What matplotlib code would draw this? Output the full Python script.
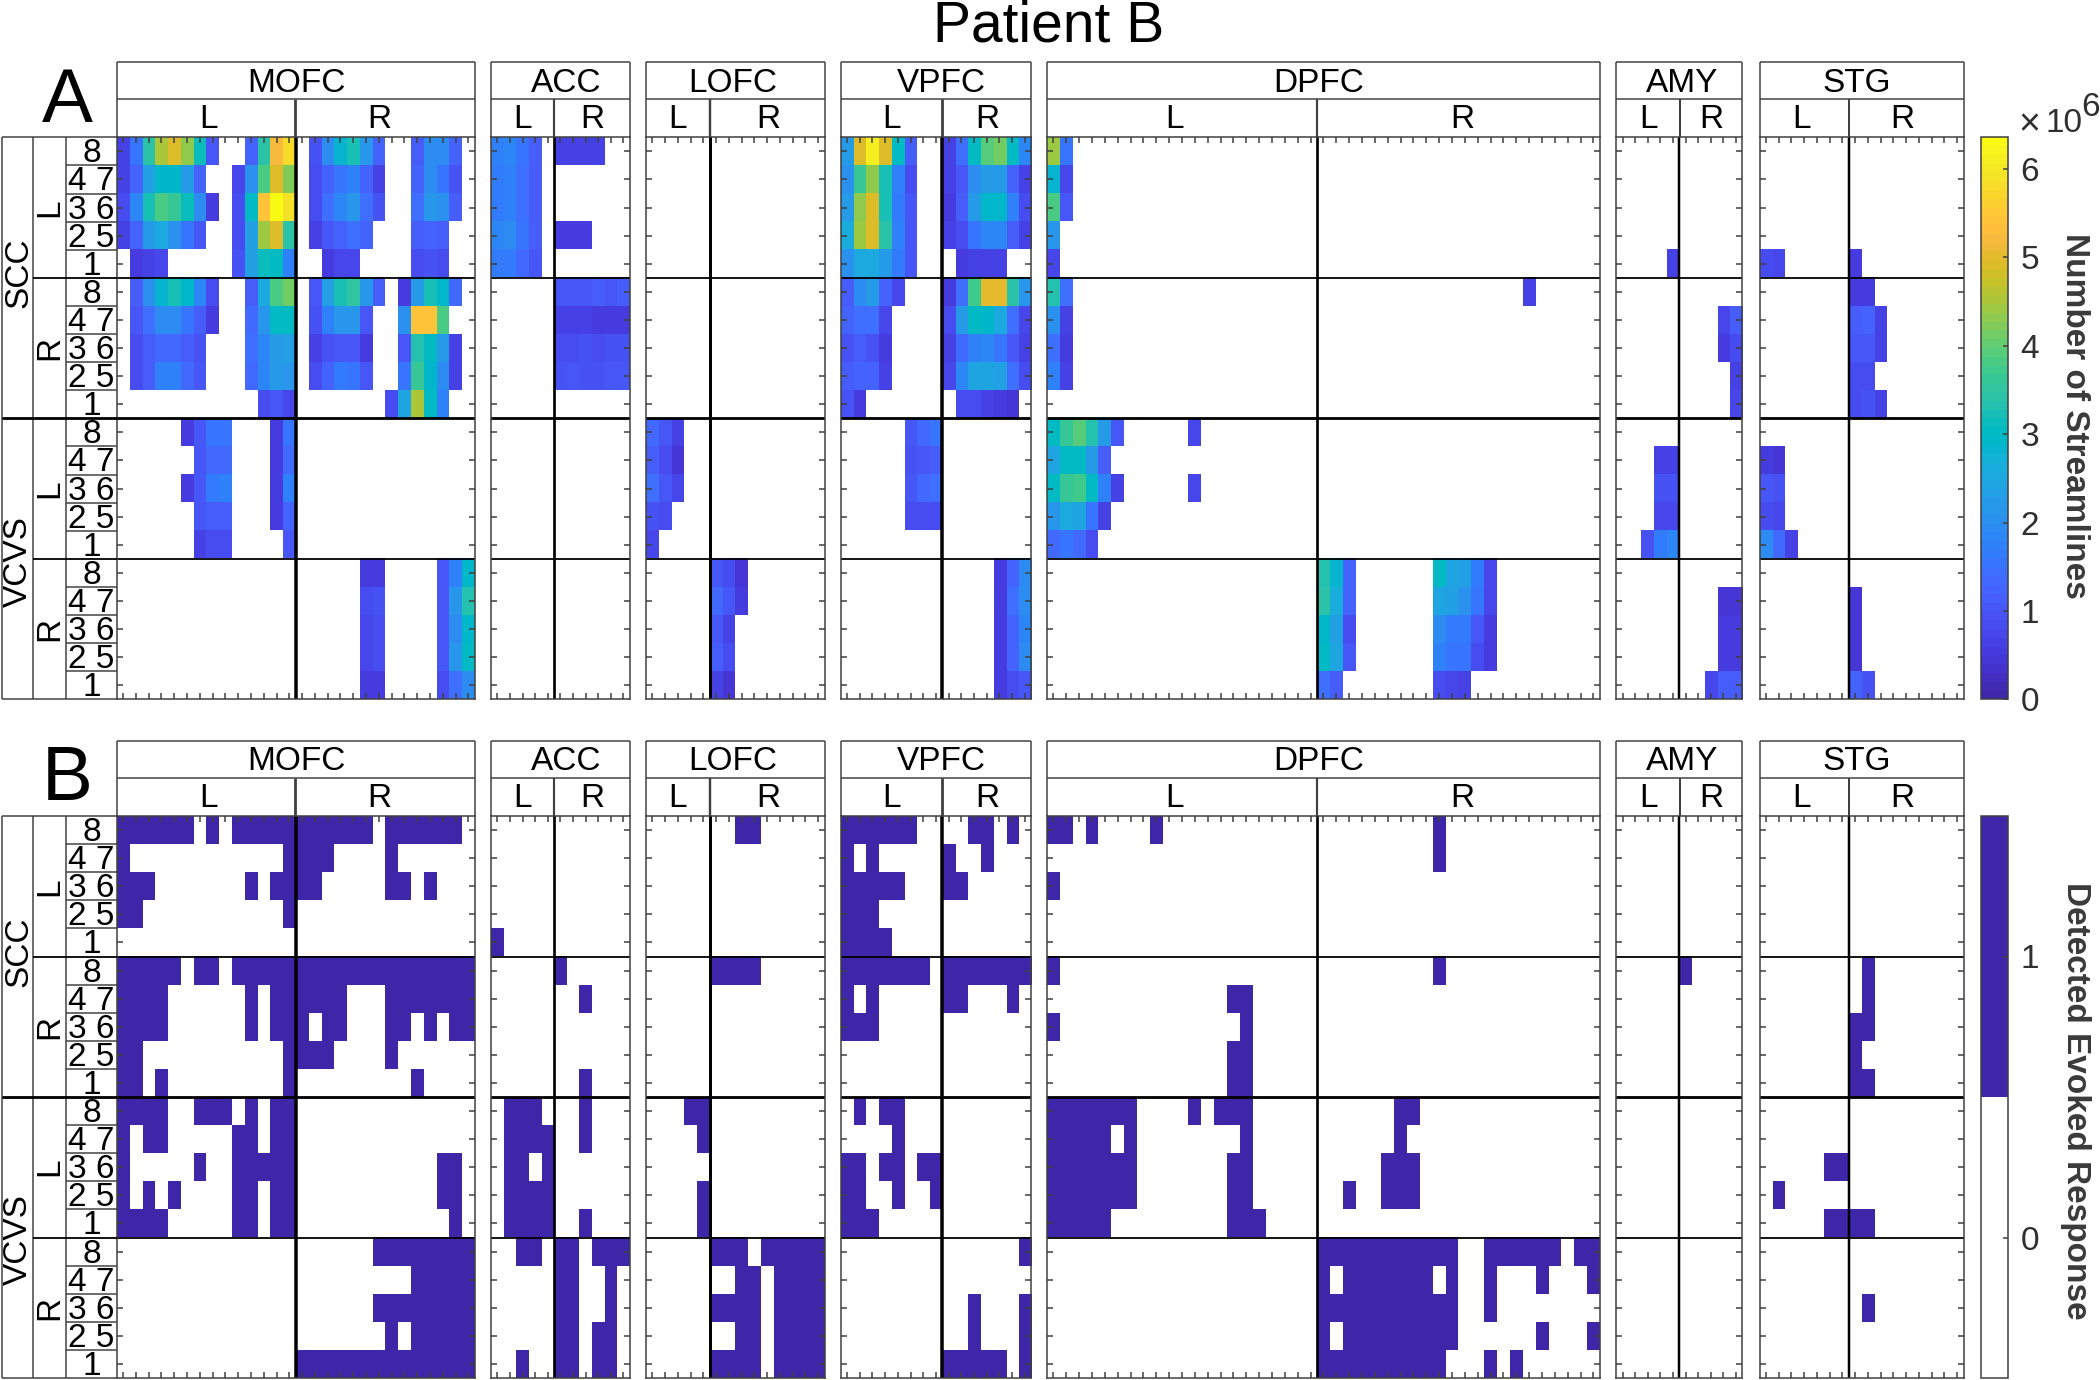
import numpy as np
import matplotlib
matplotlib.use("Agg")
import matplotlib.pyplot as plt
from matplotlib.colors import ListedColormap, Normalize

plt.rcParams['font.family'] = ['Liberation Sans', 'DejaVu Sans']

PARULA = [(.2422,.1504,.6603),(.2504,.1650,.7076),(.2578,.1818,.7511),(.2647,.1978,.7952),(.2706,.2147,.8364),(.2751,.2342,.8710),(.2783,.2559,.8991),(.2803,.2782,.9221),(.2813,.3006,.9414),(.2810,.3228,.9579),(.2795,.3447,.9717),(.2760,.3667,.9829),(.2699,.3892,.9906),(.2602,.4123,.9952),(.2440,.4358,.9988),(.2206,.4603,.9973),(.1963,.4847,.9892),(.1834,.5074,.9798),(.1786,.5289,.9682),(.1764,.5499,.9520),(.1687,.5703,.9359),(.1540,.5902,.9218),(.1460,.6091,.9079),(.1380,.6276,.8973),(.1248,.6459,.8883),(.1113,.6635,.8763),(.0952,.6798,.8598),(.0689,.6948,.8394),(.0297,.7082,.8163),(.0036,.7203,.7917),(.0067,.7312,.7660),(.0433,.7411,.7394),(.0964,.7500,.7120),(.1408,.7584,.6842),(.1717,.7670,.6554),(.1938,.7758,.6251),(.2161,.7843,.5923),(.2470,.7918,.5567),(.2906,.7973,.5188),(.3406,.8008,.4789),(.3909,.8029,.4354),(.4456,.8024,.3909),(.5044,.7993,.3480),(.5616,.7942,.3045),(.6174,.7876,.2612),(.6720,.7793,.2227),(.7242,.7698,.1910),(.7738,.7598,.1646),(.8203,.7498,.1535),(.8634,.7406,.1596),(.9035,.7330,.1774),(.9393,.7288,.2100),(.9728,.7298,.2394),(.9956,.7434,.2371),(.9970,.7659,.2199),(.9952,.7893,.2028),(.9892,.8136,.1885),(.9786,.8386,.1766),(.9676,.8639,.1643),(.9610,.8890,.1537),(.9597,.9135,.1423),(.9628,.9373,.1265),(.9691,.9606,.1064),(.9769,.9839,.0805)]

REGIONS = ["MOFC", "ACC", "LOFC", "VPFC", "DPFC", "AMY", "STG"]
N_LEFT = [14, 5, 5, 8, 21, 5, 7]
N_RIGHT = [14, 6, 9, 7, 22, 5, 9]
ROW_LABELS = ["8", "4 7", "3 6", "2 5", "1"]
VMAX_STREAMLINES = 6.36

# Streamline counts (millions): (row, first column, values); 0 = none
MOFC_A = [
 (0,0,[.6,1.5,3.4,4.5,4.9,4.3,3.1,1.0,0,0,1.2,3.4,5.2,5.8, 0,.9,1.9,2.8,3.2,2.1,1.2,0,0,1.1,1.9,1.9,1.2]),
 (1,0,[.6,1.2,2.3,2.9,2.9,2.2,1.2,0,0,.7,2.0,3.8,4.9,4.2, 0,.8,1.2,1.5,1.7,1.2,.6,0,0,1.2,1.9,1.5,.9]),
 (2,0,[.8,1.8,3.2,3.8,3.6,3.1,1.9,.5,0,.8,3.0,5.4,6.3,5.9, 0,.8,1.4,1.8,2.1,1.4,.9,0,0,1.4,2.1,2.0,1.1]),
 (3,0,[.6,1.2,2.2,2.5,2.0,1.5,1.0,0,0,.8,2.3,4.4,4.9,3.4, 0,.6,1.0,1.2,1.4,1.2,0,0,0,1.1,1.2,1.1]),
 (4,0,[0,.5,.6,.7,0,0,0,0,0,.9,2.3,3.1,3.0,1.7, 0,0,.5,.7,.7,0,0,0,0,.8,.9,.8]),
 (5,0,[0,1.1,2.0,2.8,3.2,2.9,1.8,.8,0,0,1.1,2.5,3.8,4.1, 0,1.0,2.3,3.2,3.5,2.1,1.1,0,.5,2.2,3.2,2.9,1.3]),
 (6,0,[0,1.0,1.4,1.9,1.9,1.5,1.1,.5,0,0,1.3,2.1,3.0,3.0, 0,.9,1.7,2.1,2.1,1.0,0,0,2.0,5.4,5.4,3.8]),
 (7,0,[0,.8,1.1,1.3,1.3,1.1,.9,0,0,0,1.4,1.8,2.2,2.3, 0,.6,.9,1.0,1.0,.5,0,0,1.0,3.3,3.0,2.2,.6]),
 (8,0,[0,.8,1.1,1.7,1.7,1.3,1.0,0,0,0,1.3,1.8,2.2,2.1, 0,.8,1.2,1.6,1.5,1.0,0,0,1.5,3.6,2.9,1.9,.6]),
 (9,11,[.8,1.0,.7, 0,0,0,0,0,0,0,.8,2.4,4.5,3.0,1.7]),
 (10,5,[.5,1.0,1.5,1.5,0,0,0,.5,1.5]),
 (11,6,[1.0,1.3,1.3,0,0,0,.5,1.3]),
 (12,5,[.5,1.0,1.6,1.7,0,0,0,.5,1.7]),
 (13,6,[1.0,1.1,1.1,0,0,0,.5,1.2]),
 (14,6,[.6,.8,.8,0,0,0,0,1.0]),
 (15,19,[.5,.5,0,0,0,0,1.0,1.7,2.9]),
 (16,19,[.8,.9,0,0,0,0,1.0,2.1,3.3]),
 (17,19,[.7,.8,0,0,0,0,1.0,1.9,2.9]),
 (18,19,[.7,.8,0,0,0,0,1.0,2.1,3.0]),
 (19,19,[.5,.5,0,0,0,0,.8,1.4,1.9]),
]
ACC_A = [
 (0,0,[1.7,1.8,1.5,1.1,0,.6,.6,.6,.6]),
 (1,0,[1.6,1.7,1.4,1.1]),
 (2,0,[1.6,1.7,1.4,1.1]),
 (3,0,[1.8,1.9,1.5,1.1,0,.5,.5,.5]),
 (4,0,[1.6,1.6,1.3,1.0]),
 (5,5,[1.0,1.0,1.0,1.1,1.0,1.1]),
 (6,5,[.6,.6,.6,.5,.5,.5]),
 (7,5,[.8,.8,.9,.8,.9,.9]),
 (8,5,[.9,1.0,.9,.9,1.0,1.0]),
]
LOFC_A = [
 (10,0,[1.3,1.0,.6]),
 (11,0,[1.1,.8,.4]),
 (12,0,[1.4,1.0,.7]),
 (13,0,[.9,.8]),
 (14,0,[.7]),
 (15,5,[1.0,.8,.4]),
 (16,5,[1.3,1.0,.5]),
 (17,5,[1.0,.6]),
 (18,5,[1.1,.8]),
 (19,5,[.6,.4]),
]
VPFC_A = [
 (0,0,[2.2,4.9,6.1,4.9,3.0,1.1,0,0, .6,1.4,3.0,3.9,4.1,3.0,1.8]),
 (1,0,[2.0,3.6,4.3,3.2,1.7,.8,0,0, .6,1.0,1.9,2.2,2.2,1.2,.6]),
 (2,0,[2.2,4.3,4.9,3.2,1.6,1.0,0,0, .5,1.1,2.2,2.9,2.9,1.7,.8]),
 (3,0,[2.6,4.4,4.9,3.4,1.7,1.0,0,0, .6,.8,1.5,1.8,1.8,1.1,.6]),
 (4,0,[2.0,2.5,2.5,2.2,1.6,1.0,0,0, 0,.5,.6,.6,.6]),
 (5,0,[1.1,1.9,2.2,1.2,.7,0,0,0, .5,1.4,3.7,5.0,5.0,3.4,2.1]),
 (6,0,[1.2,1.4,1.4,.7,0,0,0,0, .8,2.2,3.0,2.9,2.5,1.4,.7]),
 (7,0,[.9,1.1,.9,.5,0,0,0,0, .6,1.3,1.7,1.8,1.5,1.0,.6]),
 (8,0,[1.1,1.2,1.2,.6,0,0,0,0, .7,1.8,2.4,2.4,2.3,1.4,.8]),
 (9,0,[.9,.5,0,0,0,0,0,0, 0,.8,.8,.6,.5,.4]),
 (10,5,[1.0,1.3,1.5]),
 (11,5,[.9,1.0,1.1]),
 (12,5,[1.0,1.3,1.4]),
 (13,5,[.8,.8,.8]),
 (15,12,[.5,1.2,1.9]),
 (16,12,[.5,1.4,1.9]),
 (17,12,[.5,1.2,1.8]),
 (18,12,[.5,1.2,1.9]),
 (19,12,[.5,.8,1.0]),
]
DPFC_A = [
 (0,0,[4.4,1.5]),
 (1,0,[2.8,.7]),
 (2,0,[3.8,1.0]),
 (3,0,[2.1]),
 (4,0,[.7]),
 (5,0,[3.3,1.4]),
 (5,37,[.6]),
 (6,0,[2.0,.6]),
 (7,0,[1.4,.5]),
 (8,0,[1.7,.6]),
 (10,0,[3.0,3.6,3.9,3.3,2.2,1.0,0,0,0,0,0,.7]),
 (11,0,[2.4,3.0,3.0,2.2,1.1]),
 (12,0,[3.0,3.6,3.7,3.0,1.7,.6,0,0,0,0,0,.7]),
 (13,0,[2.1,2.5,2.4,1.5,.6]),
 (14,0,[1.3,1.5,1.3,.8]),
 (15,21,[3.3,2.8,1.2,0,0,0,0,0,0,3.0,2.4,2.3,1.6,.7]),
 (16,21,[3.4,2.6,1.2,0,0,0,0,0,0,2.4,2.3,2.0,1.5,.7]),
 (17,21,[2.9,2.3,.8,0,0,0,0,0,0,1.9,1.6,1.6,1.0,.5]),
 (18,21,[3.0,2.4,1.0,0,0,0,0,0,0,1.7,1.5,1.5,.8,.5]),
 (19,21,[1.4,1.1,0,0,0,0,0,0,0,.8,.7,.6]),
]
AMY_A = [
 (4,4,[.6]),
 (6,8,[.7,1.1]),
 (7,8,[.5,.8]),
 (8,9,[.6]),
 (9,9,[.7]),
 (11,3,[.6,.6]),
 (12,3,[.9,.9]),
 (13,3,[.7,.7]),
 (14,2,[.9,1.6,1.8]),
 (16,8,[.4,.4]),
 (17,8,[.5,.5]),
 (18,8,[.5,.5]),
 (19,7,[.7,1.1,1.1]),
]
STG_A = [
 (4,0,[.8,.7,0,0,0,0,0,.5]),
 (5,7,[.5,.5]),
 (6,7,[1.1,1.2,.6]),
 (7,7,[1.0,1.0,.6]),
 (8,7,[.8,.8]),
 (9,7,[.8,.9,.6]),
 (11,0,[.5,.4]),
 (12,0,[1.0,.9]),
 (13,0,[.8,.7]),
 (14,0,[1.9,1.3,.6]),
 (16,7,[.4]),
 (17,7,[.4]),
 (18,7,[.4]),
 (19,7,[1.2,.9]),
]

# Detected evoked response, one string per row: left part, right part
E14 = "0" * 14
MOFC_B = [
 "11111101011111 11111101111110",
 "10000000000001 11100001000000",
 "11100000001011 11000001101000",
 "11000000000001 " + E14,
 E14 + " " + E14,
 "11111011011111 11111111111111",
 "11110000001011 11110001111111",
 "11110000001011 10110001101011",
 "11000000000001 11100001000000",
 "11010000000001 00000000010000",
 "11110011101011 " + E14,
 "10110000011011 " + E14,
 "10000010011111 00000000000110",
 "10101000011011 00000000000110",
 "11110000011011 00000000000010",
 E14 + " 00000011111111",
 E14 + " 00000000011111",
 E14 + " 00000011111111",
 E14 + " 00000001011111",
 E14 + " 11111111111111",
]
ACC_B = [
 "00000 000000", "00000 000000", "00000 000000", "00000 000000", "10000 000000",
 "00000 100000", "00000 001000", "00000 000000", "00000 000000", "00000 001000",
 "01110 001000", "01111 001000", "01101 000000", "01111 000000", "01111 001000",
 "00110 110111", "00000 110010", "00000 110010", "00000 110110", "00100 110110",
]
LOFC_B = [
 "00000 001100000", "00000 000000000", "00000 000000000", "00000 000000000", "00000 000000000",
 "00000 111100000", "00000 000000000", "00000 000000000", "00000 000000000", "00000 000000000",
 "00011 000000000", "00001 000000000", "00000 000000000", "00001 000000000", "00001 000000000",
 "00000 111011111", "00000 001101111", "00000 111101111", "00000 001101111", "00000 111101111",
]
VPFC_B = [
 "11111100 0011010", "10100000 1001000", "11111000 1100000", "11100000 0000000", "11110000 0000000",
 "11111110 1111111", "10100000 1100010", "11100000 0000000", "00000000 0000000", "00000000 0000000",
 "01011000 0000000", "00001000 0000000", "11011011 0000000", "11001001 0000000", "11100000 0000000",
 "00000000 0000001", "00000000 0000000", "00000000 0010001", "00000000 0010001", "00000000 1111101",
]
E21 = "0" * 21
E22 = "0" * 22
DPFC_B = [
 "110100001000000000000 0000000001" + "0" * 12,
 E21 + " 0000000001" + "0" * 12,
 "1" + "0" * 20 + " " + E22,
 E21 + " " + E22,
 E21 + " " + E22,
 "1" + "0" * 20 + " 0000000001" + "0" * 12,
 "000000000000001100000 " + E22,
 "100000000000000100000 " + E22,
 "000000000000001100000 " + E22,
 "000000000000001100000 " + E22,
 "111111100001011100000 0000001100000000000000",
 "111110100000000100000 0000001000000000000000",
 "111111100000001100000 0000011100000000000000",
 "111111100000001100000 0010011100000000000000",
 "111110000000001110000 " + E22,
 E21 + " 1111111111100111111011",
 E21 + " 1011111110100100010001",
 E21 + " 1111111111100100000000",
 E21 + " 1011111111100000010001",
 E21 + " 1111111111000101000000",
]
AMY_B = ["00000 00000"] * 5 + ["00000 10000"] + ["00000 00000"] * 14
STG_B = [
 "0000000 000000000", "0000000 000000000", "0000000 000000000", "0000000 000000000", "0000000 000000000",
 "0000000 010000000", "0000000 010000000", "0000000 110000000", "0000000 100000000", "0000000 110000000",
 "0000000 000000000", "0000000 000000000", "0000011 000000000", "0100000 000000000", "0000011 110000000",
 "0000000 000000000", "0000000 000000000", "0000000 010000000", "0000000 000000000", "0000000 000000000",
]

STREAMLINES = [MOFC_A, ACC_A, LOFC_A, VPFC_A, DPFC_A, AMY_A, STG_A]
EVOKED = [MOFC_B, ACC_B, LOFC_B, VPFC_B, DPFC_B, AMY_B, STG_B]

# ---- layout, in pixels of the 2100x1380 figure
W, H = 2100, 1380
REGION_X = [(116.7, 294.7, 474.7), (491, 554.3, 629.8), (646.1, 709.8, 824.5),
            (840.8, 942, 1031), (1047, 1317.3, 1599.8), (1616.2, 1679.7, 1742.4),
            (1759.5, 1848.9, 1963.5)]
MID_LW = [3.5, 2.7, 3, 3.5, 2.7, 2.5, 2.5]
NAME_DX = [1, 6, -3, 5, -5, 3, -5]
LEFT_DX = [3, 0, 0, 0, -8, 1, -3]
RIGHT_DX = [-5, 0, 1, 1, 4, 0, -4]
GRAY = "#404040"
PX = 0.72  # points per pixel at dpi 100


def px_axes(fig, x0, y0, x1, y1, **kw):
    return fig.add_axes([x0 / W, 1 - y1 / H, (x1 - x0) / W, (y1 - y0) / H], **kw)


def sparse_matrix(entries, ncols):
    m = np.zeros((20, ncols))
    for row, first, vals in entries:
        m[row, first:first + len(vals)] = vals
    return np.ma.masked_where(m == 0, m)


def string_matrix(rows):
    return np.array([[int(c) for c in r.replace(" ", "")] for r in rows], dtype=float)


fig = plt.figure(figsize=(W / 100, H / 100), dpi=100, facecolor="white")
over = px_axes(fig, 0, 0, W, H)
over.set_xlim(0, W)
over.set_ylim(H, 0)
over.axis("off")
over.set_zorder(5)


def hline(y, x0, x1, lw=1.5, c=GRAY):
    over.plot([x0, x1], [y, y], color=c, lw=lw * PX, solid_capstyle="butt")


def vline(x, y0, y1, lw=1.5, c=GRAY):
    over.plot([x, x], [y0, y1], color=c, lw=lw * PX, solid_capstyle="butt")


def draw_panel(top, hdr_top, hdr_mid, matrices, cmap, norm, letter, letter_y, scc_y, vcvs_y):
    rh = 28.1
    bottom = top + 20 * rh
    im = None
    for i, name in enumerate(REGIONS):
        x0, xm, x1 = REGION_X[i]
        nl, nr = N_LEFT[i], N_RIGHT[i]
        ax = px_axes(fig, x0, top, x1, bottom)
        im = ax.imshow(matrices[i], cmap=cmap, norm=norm, aspect="auto", interpolation="nearest",
                       extent=(0.5, nl + nr + 0.5, 20.5, 0.5))
        ax.set_xticks(np.arange(1, nl + nr + 1))
        ax.set_yticks(np.arange(1, 21))
        ax.tick_params(direction="in", length=4, width=1.1, color=GRAY, top=True, bottom=True,
                       left=True, right=True, labelbottom=False, labelleft=False)
        for s in ax.spines.values():
            s.set_color(GRAY)
            s.set_linewidth(1.1)
        ax.axvline(nl + 0.5, color="k", lw=MID_LW[i] * PX)
        ax.axhline(5.5, color="k", lw=1.8 * PX)
        ax.axhline(10.5, color="k", lw=2.8 * PX)
        ax.axhline(15.5, color="k", lw=1.8 * PX)
        # header boxes
        hline(hdr_top, x0, x1)
        hline(hdr_mid, x0, x1)
        vline(x0, hdr_top, top)
        vline(x1, hdr_top, top)
        vline(xm, hdr_mid, top, lw=MID_LW[i] * 0.8)
        over.text((x0 + x1) / 2 + NAME_DX[i], (hdr_top + hdr_mid) / 2 + 2.5, name, fontsize=24, ha="center", va="center", color="k")
        over.text((x0 + xm) / 2 + LEFT_DX[i], (hdr_mid + top) / 2 + 1, "L", fontsize=24, ha="center", va="center", color="k")
        over.text((xm + x1) / 2 + RIGHT_DX[i], (hdr_mid + top) / 2 + 1, "R", fontsize=24, ha="center", va="center", color="k")

    # left label columns
    lx = [1.5, 32.6, 66, 116.7]
    for x in lx[:3]:
        vline(x, top, bottom)
    hline(top, lx[0], lx[3])
    hline(bottom, lx[0], lx[3])
    hline(top + 10 * rh, lx[0], lx[3], lw=2.8, c="k")
    hline(top + 5 * rh, lx[1], lx[3], lw=1.8, c="k")
    hline(top + 15 * rh, lx[1], lx[3], lw=1.8, c="k")
    for r in range(20):
        over.text(91.5, top + (r + 0.5) * rh + 2.5, ROW_LABELS[r % 5], fontsize=24, ha="center",
                  va="center", color="k")
        if r % 5:
            hline(top + r * rh, lx[2], lx[3], lw=1.5)
    for k, side in enumerate(["L", "R", "L", "R"]):
        over.text(49.5, top + (5 * k + 2.5) * rh, side, fontsize=24, rotation=90, ha="center", va="center", color="k")
    over.text(18.5, scc_y, "SCC", fontsize=24, rotation=90, ha="center", va="center", color="k")
    over.text(18.5, vcvs_y, "VCVS", fontsize=24, rotation=90, ha="center", va="center", color="k")
    over.text(67, letter_y, letter, fontsize=55, ha="center", va="center", color="k")
    return im, bottom


cmap_a = ListedColormap(PARULA)
cmap_a.set_bad("white")
norm_a = Normalize(0, VMAX_STREAMLINES)
cmap_b = ListedColormap(["white", PARULA[0]])
norm_b = Normalize(-0.5, 1.5)

mats_a = [sparse_matrix(e, nl + nr) for e, nl, nr in zip(STREAMLINES, N_LEFT, N_RIGHT)]
mats_b = [string_matrix(e) for e in EVOKED]

im_a, bot_a = draw_panel(137.3, 62, 99.3, mats_a, cmap_a, norm_a, "A", 102, 273, 562)
im_b, bot_b = draw_panel(816, 740.7, 778.3, mats_b, cmap_b, norm_b, "B", 780, 952, 1240)


def colourbar(im, top, bottom, ticks, label, ly):
    cax = px_axes(fig, 1980.6, top, 2007.9, bottom)
    cb = fig.colorbar(im, cax=cax, ticks=ticks)
    cb.outline.set_edgecolor(GRAY)
    cb.outline.set_linewidth(1.1)
    cax.tick_params(direction="in", length=3.5, width=1.1, color=GRAY, labelsize=24, labelcolor="#303030", pad=9)
    over.text(2075, ly, label, fontsize=24, fontweight="bold", rotation=270, ha="center", va="center", color="#3a3a3a")


colourbar(im_a, 137.3, bot_a, [0, 1, 2, 3, 4, 5, 6], "Number of Streamlines", 416)
colourbar(im_b, 816, bot_b, [0, 1], "Detected Evoked Response", 1101)

over.text(2029, 125, "\u00d7", fontsize=27, ha="center", va="center", color="#303030")
over.text(2064, 124, "10", fontsize=24, ha="center", va="center", color="#303030")
over.text(2091, 108, "6", fontsize=24, ha="center", va="center", color="#303030")

over.text(1049, 27, "Patient B", fontsize=41, ha="center", va="center", color="k")

fig.savefig("out.png", dpi=100, facecolor="white")
